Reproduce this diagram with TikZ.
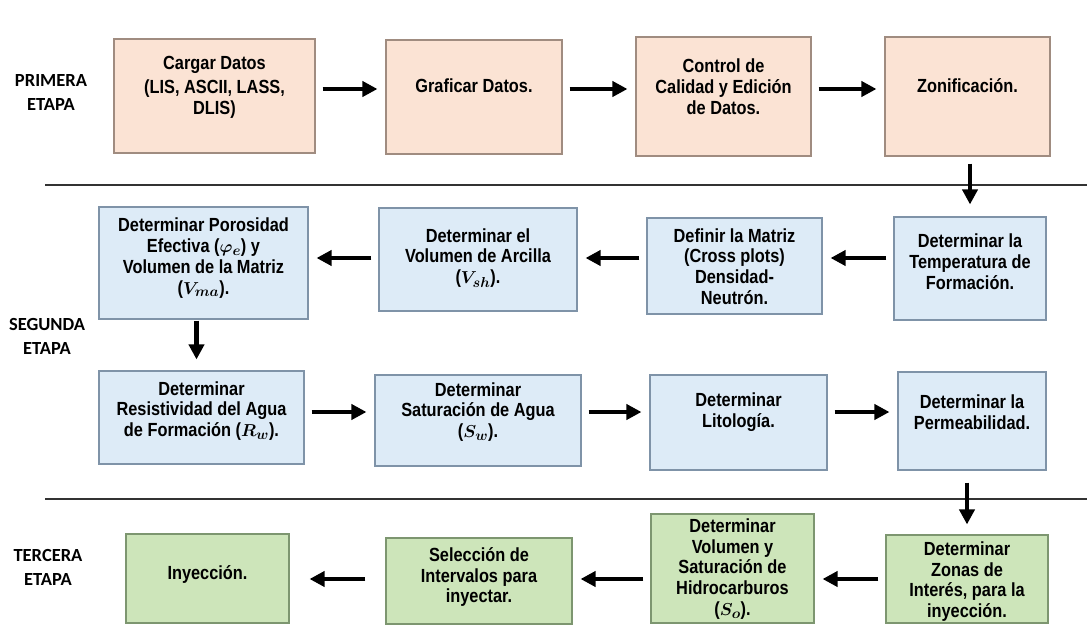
\documentclass[tikz,border=0pt]{standalone}
\usepackage{amsmath}
\usepackage{fontspec}
\setmainfont{Liberation Sans}[FakeStretch=0.86]
\newfontfamily\etapafont{Carlito}
\usetikzlibrary{arrows.meta}

\definecolor{rosa}{HTML}{FBE3D4}
\definecolor{rosaborde}{HTML}{A08C80}
\definecolor{celeste}{HTML}{DDEBF7}
\definecolor{celesteborde}{HTML}{7F93A8}
\definecolor{verde}{HTML}{CDE5BA}
\definecolor{verdeborde}{HTML}{7D9670}

\tikzset{
  caja/.style={line width=1.1pt, inner sep=0pt},
  cajarosa/.style={caja, draw=rosaborde, fill=rosa},
  cajaazul/.style={caja, draw=celesteborde, fill=celeste},
  cajaverde/.style={caja, draw=verdeborde, fill=verde},
  texto/.style={align=center, inner sep=0pt, font=\bfseries\boldmath\fontsize{19}{20.8}\selectfont},
  etapa/.style={align=center, inner sep=0pt, font=\etapafont\bfseries\fontsize{18.5}{24}\selectfont},
  flecha/.style={line width=4.6pt, -{Triangle[length=15pt,width=15pt]}, shorten <=7pt, shorten >=8pt},
  separador/.style={line width=1.2pt, draw=black!80}
}

\begin{document}
\begin{tikzpicture}[x=1pt, y=-1pt]
\useasboundingbox (0,0) rectangle (1087,626);
\fill[white] (0,0) rectangle (1087,626);

% etapas
\node[etapa] (etapa1) at (51,93) {PRIMERA\\ETAPA};
\node[etapa] (etapa2) at (47,336) {SEGUNDA\\ETAPA};
\node[etapa] (etapa3) at (48,567) {TERCERA\\ETAPA};

\draw[separador] (45,185) -- (1087,185);
\draw[separador] (45,499) -- (1087,499);

% primera etapa
\node[cajarosa, minimum width=201pt, minimum height=114pt] (cargar) at (214.5,96) {};
\node[cajarosa, minimum width=176pt, minimum height=114pt] (graficar) at (474,97) {};
\node[cajarosa, minimum width=175pt, minimum height=119pt] (control) at (723.5,96.5) {};
\node[cajarosa, minimum width=165pt, minimum height=119pt] (zonif) at (967.5,96.5) {};
\node[texto] (cargar-t) at (214.5,87) {Cargar Datos\\[3.5pt](LIS, ASCII, LASS,\\DLIS)};
\node[texto] (graficar-t) at (474,85.5) {Graficar Datos.};
\node[texto] (control-t) at (723.5,87) {Control de\\Calidad y Edición\\de Datos.};
\node[texto] (zonif-t) at (967.5,86) {Zonificación.};

% segunda etapa
\node[cajaazul, minimum width=209pt, minimum height=112pt] (porosidad) at (203.5,263) {};
\node[cajaazul, minimum width=198pt, minimum height=103pt] (arcilla) at (478,259.5) {};
\node[cajaazul, minimum width=175pt, minimum height=96pt] (definir) at (734.5,266) {};
\node[cajaazul, minimum width=152pt, minimum height=103pt] (temp) at (970,268.5) {};
\node[texto] (porosidad-t) at (203.5,258) {Determinar Porosidad\\Efectiva ($\varphi_e$) y\\Volumen de la Matriz\\($V_{ma}$).};
\node[texto] (arcilla-t) at (478,258) {Determinar el\\Volumen de Arcilla\\($V_{sh}$).};
\node[texto] (definir-t) at (734.5,266.5) {Definir la Matriz\\(Cross plots)\\Densidad-\\Neutrón.};
\node[texto] (temp-t) at (970,262) {Determinar la\\Temperatura de\\Formación.};

\node[cajaazul, minimum width=205pt, minimum height=93pt] (resist) at (201.5,417.5) {};
\node[cajaazul, minimum width=206pt, minimum height=91pt] (satagua) at (478,420.5) {};
\node[cajaazul, minimum width=177pt, minimum height=95pt] (lito) at (738.5,422.5) {};
\node[cajaazul, minimum width=148pt, minimum height=98pt] (perm) at (972,421) {};
\node[texto] (resist-t) at (201.5,411) {Determinar\\Resistividad del Agua\\de Formación ($R_w$).};
\node[texto] (satagua-t) at (478,412) {Determinar\\Saturación de Agua\\($S_w$).};
\node[texto] (lito-t) at (738.5,412.5) {Determinar\\Litología.};
\node[texto] (perm-t) at (972,412.5) {Determinar la\\Permeabilidad.};

% tercera etapa
\node[cajaverde, minimum width=163pt, minimum height=89pt] (inyeccion) at (207.5,578.5) {};
\node[cajaverde, minimum width=186pt, minimum height=86pt] (seleccion) at (479,581) {};
\node[cajaverde, minimum width=163pt, minimum height=109pt] (hidro) at (732.5,568.5) {};
\node[cajaverde, minimum width=162pt, minimum height=88pt] (zonas) at (967,579) {};
\node[texto] (inyeccion-t) at (207.5,574.5) {Inyección.};
\node[texto] (seleccion-t) at (479,577) {Selección de\\Intervalos para\\inyectar.};
\node[texto] (hidro-t) at (732.5,569) {Determinar\\Volumen y\\Saturación de\\Hidrocarburos\\($S_o$).};
\node[texto] (zonas-t) at (967,581.5) {Determinar\\Zonas de\\Interés, para la\\inyección.};

% flechas
\coordinate (f1) at (0,89);
\coordinate (f2) at (0,258);
\coordinate (f3) at (0,412);
\coordinate (f4) at (0,579);
\draw[flecha] (cargar.east |- f1) -- (graficar.west |- f1);
\draw[flecha] (graficar.east |- f1) -- (control.west |- f1);
\draw[flecha] (control.east |- f1) -- (zonif.west |- f1);
\draw[flecha, shorten <=7pt, shorten >=12pt] (zonif.south -| temp.north) -- (temp.north);
\draw[flecha] (temp.west |- f2) -- (definir.east |- f2);
\draw[flecha] (definir.west |- f2) -- (arcilla.east |- f2);
\draw[flecha] (arcilla.west |- f2) -- (porosidad.east |- f2);
\draw[flecha, shorten <=1pt, shorten >=11pt] ([xshift=-7pt]porosidad.south) -- ([xshift=-7pt]porosidad.south |- resist.north);
\draw[flecha] (resist.east |- f3) -- (satagua.west |- f3);
\draw[flecha] (satagua.east |- f3) -- (lito.west |- f3);
\draw[flecha] (lito.east |- f3) -- (perm.west |- f3);
\draw[flecha, shorten <=12pt, shorten >=10pt] (perm.south -| zonas.north) -- (zonas.north);
\draw[flecha] (zonas.west |- f4) -- (hidro.east |- f4);
\draw[flecha] (hidro.west |- f4) -- (seleccion.east |- f4);
\draw[flecha, shorten <=20pt, shorten >=20pt] (seleccion.west |- f4) -- (inyeccion.east |- f4);
\end{tikzpicture}
\end{document}
